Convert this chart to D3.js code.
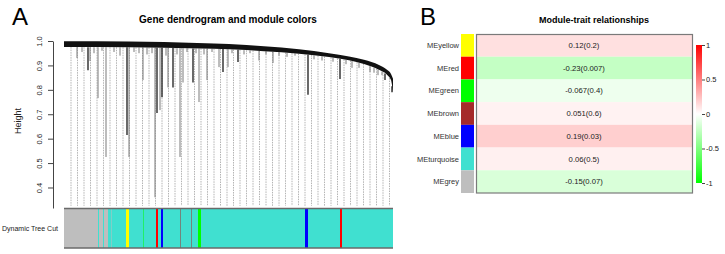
<!DOCTYPE html>
<html>
<head>
<meta charset="utf-8">
<script src="https://cdn.jsdelivr.net/npm/d3@7"></script>
<style>
  body { margin: 0; background: #fff; }
  svg { display: block; font-family: "Liberation Sans", Arial, sans-serif; }
</style>
</head>
<body>
<svg id="chart" width="725" height="254"></svg>
<script>
// ---------- panel A: gene dendrogram ----------
const nGenes = 658;
const heightTicks = [0.4, 0.5, 0.6, 0.7, 0.8, 0.9, 1.0];

// top merge band along the leaf order: [leaf position, top height, bottom height]
const mergeBand = [
  [0, 0.999, 0.975], [130, 0.998, 0.974], [200, 0.996, 0.972],
  [300, 0.99, 0.968], [330, 0.988, 0.966], [400, 0.978, 0.958],
  [470, 0.966, 0.948], [530, 0.95, 0.934], [570, 0.937, 0.921],
  [600, 0.923, 0.906], [630, 0.902, 0.882], [646, 0.882, 0.862],
  [654, 0.865, 0.84], [658, 0.845, 0.79]
];

// branches hanging under the band: [leaf position, lowest height, shade]
const branches = [
  [26, 0.93, "gray"], [48, 0.88, "dark"], [52, 0.918, "gray"], [68, 0.766, "gray"],
  [84, 0.525, "gray"], [130, 0.525, "gray"], [126, 0.615, "dark"], [158, 0.84, "gray"],
  [182, 0.36, "gray"], [186, 0.705, "dark"], [192, 0.717, "gray"], [196, 0.77, "dark"],
  [208, 0.81, "gray"], [218, 0.81, "dark"], [232, 0.525, "gray"], [238, 0.83, "gray"],
  [258, 0.83, "dark"], [270, 0.75, "gray"], [286, 0.84, "gray"], [310, 0.893, "gray"],
  [318, 0.873, "dark"], [328, 0.893, "gray"], [348, 0.914, "dark"], [390, 0.92, "gray"],
  [418, 0.91, "gray"], [488, 0.78, "dark"], [552, 0.844, "dark"], [576, 0.89, "gray"],
  [612, 0.873, "gray"], [628, 0.86, "gray"], [642, 0.84, "dark"], [656, 0.79, "dark"],
  // short fringe under the band
  [36, 0.955, "gray"], [60, 0.95, "gray"], [76, 0.96, "gray"], [100, 0.955, "gray"],
  [112, 0.94, "gray"], [140, 0.955, "gray"], [150, 0.95, "gray"], [166, 0.945, "gray"],
  [176, 0.95, "gray"], [204, 0.94, "gray"], [226, 0.945, "gray"], [246, 0.955, "gray"],
  [264, 0.95, "gray"], [280, 0.945, "gray"], [296, 0.955, "gray"], [336, 0.95, "gray"],
  [360, 0.945, "gray"], [372, 0.95, "gray"], [404, 0.945, "gray"], [430, 0.94, "gray"],
  [446, 0.935, "gray"], [462, 0.94, "gray"], [500, 0.925, "gray"], [516, 0.92, "gray"],
  [538, 0.915, "gray"], [564, 0.905, "gray"], [590, 0.89, "gray"], [620, 0.87, "gray"],
  [636, 0.86, "gray"]
];
const leafStems = 50;
const stemBottom = 0.325;

// Dynamic Tree Cut colours in leaf order: [module, number of genes]
const moduleRuns = [
  ["grey", 68], ["turquoise", 2], ["grey", 8], ["turquoise", 2], ["grey", 8],
  ["turquoise", 6], ["grey", 1], ["turquoise", 29], ["yellow", 6], ["turquoise", 28],
  ["green", 1], ["turquoise", 25], ["red", 4], ["turquoise", 6], ["blue", 4],
  ["turquoise", 34], ["brown", 1], ["turquoise", 21], ["brown", 1], ["turquoise", 13],
  ["green", 6], ["turquoise", 208], ["blue", 6], ["turquoise", 64], ["red", 4],
  ["turquoise", 102]
];

// ---------- panel B: module-trait heatmap ----------
const modules = ["MEyellow", "MEred", "MEgreen", "MEbrown", "MEblue", "MEturquoise", "MEgrey"];
const moduleNames = ["yellow", "red", "green", "brown", "blue", "turquoise", "grey"];
const correlations = [0.12, -0.23, -0.067, 0.051, 0.19, 0.06, -0.15];
const pValues = ["0.2", "0.007", "0.4", "0.6", "0.03", "0.5", "0.07"];
const legendTicks = [1, 0.5, 0, -0.5, -1];

const rColors = {
  grey: "#bebebe", turquoise: "#40e0d0", yellow: "#ffff00", green: "#00ff00",
  red: "#ff0000", blue: "#0000ff", brown: "#a52a2a"
};

const svg = d3.select("#chart");

// panel letters
svg.append("text").attr("x", 12).attr("y", 25).style("font-size", "24px").text("A");
svg.append("text").attr("x", 420).attr("y", 25).style("font-size", "24px").text("B");

// ---- dendrogram ----
const x = d3.scaleLinear().domain([0, nGenes]).range([64, 393]);
const y = d3.scaleLinear().domain([0.316, 1]).range([208, 41]);

svg.append("text")
  .attr("x", 228).attr("y", 23)
  .attr("text-anchor", "middle")
  .style("font-size", "10px").style("font-weight", "bold")
  .text("Gene dendrogram and module colors");

const bandBottom = d3.scaleLinear()
  .domain(mergeBand.map((d) => d[0]))
  .range(mergeBand.map((d) => d[2]));

// leaf stems (light dotted)
svg.append("g")
  .selectAll("line")
  .data(d3.range(leafStems).map((i) => 14 + i * 13))
  .join("line")
  .attr("x1", (d) => x(d)).attr("x2", (d) => x(d))
  .attr("y1", (d) => y(bandBottom(d)))
  .attr("y2", y(stemBottom))
  .attr("stroke", "#b4b4b4")
  .attr("stroke-width", 1)
  .attr("stroke-dasharray", "1.5,1");

// hanging branches
svg.append("g")
  .selectAll("line")
  .data(branches)
  .join("line")
  .attr("x1", (d) => x(d[0])).attr("x2", (d) => x(d[0]))
  .attr("y1", (d) => y(bandBottom(d[0])))
  .attr("y2", (d) => y(d[1]))
  .attr("stroke", (d) => (d[2] === "dark" ? "#1a1a1a" : "#7a7a7a"))
  .attr("stroke-width", (d) => (d[2] === "dark" ? 1.3 : 1));

// merge band
const band = d3.area()
  .x((d) => x(d[0]))
  .y0((d) => y(d[2]))
  .y1((d) => y(d[1]))
  .curve(d3.curveMonotoneX);

svg.append("path")
  .datum(mergeBand)
  .attr("d", band)
  .attr("fill", "#111");

// height axis
const yAxis = svg.append("g")
  .attr("transform", "translate(53,0)")
  .call(d3.axisLeft(y).tickValues(heightTicks).tickFormat(d3.format(".1f")).tickSize(5).tickSizeOuter(0));
yAxis.select(".domain").attr("stroke", "#444");
yAxis.selectAll(".tick line").attr("stroke", "#444");
yAxis.selectAll(".tick text")
  .attr("transform", "rotate(-90)")
  .attr("x", 0).attr("y", -11).attr("dy", 0)
  .attr("text-anchor", "middle")
  .style("font-size", "7.5px")
  .style("font-family", '"Liberation Sans", Arial, sans-serif')
  .attr("fill", "#222");

svg.append("text")
  .attr("transform", "translate(21,121) rotate(-90)")
  .attr("text-anchor", "middle")
  .style("font-size", "9px")
  .attr("fill", "#222")
  .text("Height");

// module colour bar
let start = 0;
const runs = moduleRuns.map(([m, n]) => {
  const r = { module: m, start: start, end: start + n };
  start += n;
  return r;
});

svg.append("g")
  .selectAll("rect")
  .data(runs)
  .join("rect")
  .attr("x", (d) => x(d.start))
  .attr("width", (d, i) => x(d.end) - x(d.start) + (i < runs.length - 1 ? 0.5 : 0))
  .attr("y", 208)
  .attr("height", 40)
  .attr("fill", (d) => rColors[d.module]);

svg.append("line").attr("x1", x(0)).attr("x2", x(nGenes)).attr("y1", 208.5).attr("y2", 208.5)
  .attr("stroke", "#6a6a6a").attr("stroke-width", 1.5);
svg.append("line").attr("x1", x(0)).attr("x2", x(nGenes)).attr("y1", 248).attr("y2", 248)
  .attr("stroke", "#6a6a6a").attr("stroke-width", 1.5);

svg.append("text")
  .attr("x", 58).attr("y", 231)
  .attr("text-anchor", "end")
  .style("font-size", "7px")
  .attr("fill", "#222")
  .text("Dynamic Tree Cut");

// ---- heatmap ----
svg.append("text")
  .attr("x", 594).attr("y", 23)
  .attr("text-anchor", "middle")
  .style("font-size", "9px").style("font-weight", "bold")
  .text("Module-trait relationships");

const row = d3.scaleBand().domain(modules).range([34, 193]);
const heat = d3.scaleLinear().domain([-1, 0, 1]).range(["#00ff00", "#ffffff", "#ff0000"]);

const rows = svg.append("g")
  .selectAll("g")
  .data(modules)
  .join("g")
  .attr("transform", (d) => `translate(0,${row(d)})`);

rows.append("rect")
  .attr("x", 461).attr("width", 13)
  .attr("height", row.bandwidth())
  .attr("fill", (d, i) => rColors[moduleNames[i]]);

rows.append("rect")
  .attr("x", 476).attr("width", 216)
  .attr("height", row.bandwidth())
  .attr("fill", (d, i) => heat(correlations[i]));

rows.append("text")
  .attr("x", 459).attr("y", row.bandwidth() / 2)
  .attr("dy", "0.35em")
  .attr("text-anchor", "end")
  .style("font-size", "7.5px")
  .attr("fill", "#333")
  .text((d) => d);

rows.append("text")
  .attr("x", 584).attr("y", row.bandwidth() / 2)
  .attr("dy", "0.35em")
  .attr("text-anchor", "middle")
  .style("font-size", "7.7px")
  .attr("fill", "#222")
  .text((d, i) => `${correlations[i]}(${pValues[i]})`);

svg.append("rect")
  .attr("x", 476.5).attr("y", 34.5)
  .attr("width", 216).attr("height", 158.5)
  .attr("fill", "none")
  .attr("stroke", "#7a7a7a")
  .attr("stroke-width", 1.2);

// legend bar
const legendY = d3.scaleLinear().domain([-1, 1]).range([183, 45]);
const grad = svg.append("defs").append("linearGradient")
  .attr("id", "corGrad")
  .attr("x1", 0).attr("y1", 1).attr("x2", 0).attr("y2", 0);
grad.selectAll("stop")
  .data([-1, 0, 1])
  .join("stop")
  .attr("offset", (d) => (d + 1) / 2)
  .attr("stop-color", (d) => heat(d));

svg.append("rect")
  .attr("x", 696).attr("width", 6)
  .attr("y", legendY(1)).attr("height", legendY(-1) - legendY(1))
  .attr("fill", "url(#corGrad)");

const lAxis = svg.append("g")
  .attr("transform", "translate(702,0)")
  .call(d3.axisRight(legendY).tickValues(legendTicks).tickFormat((d) => String(d)).tickSize(3).tickSizeOuter(0));
lAxis.select(".domain").remove();
lAxis.selectAll(".tick line").attr("stroke", "#444");
lAxis.selectAll(".tick text")
  .attr("x", 4)
  .style("font-size", "7.5px")
  .style("font-family", '"Liberation Sans", Arial, sans-serif')
  .attr("fill", "#222");
</script>
</body>
</html>
